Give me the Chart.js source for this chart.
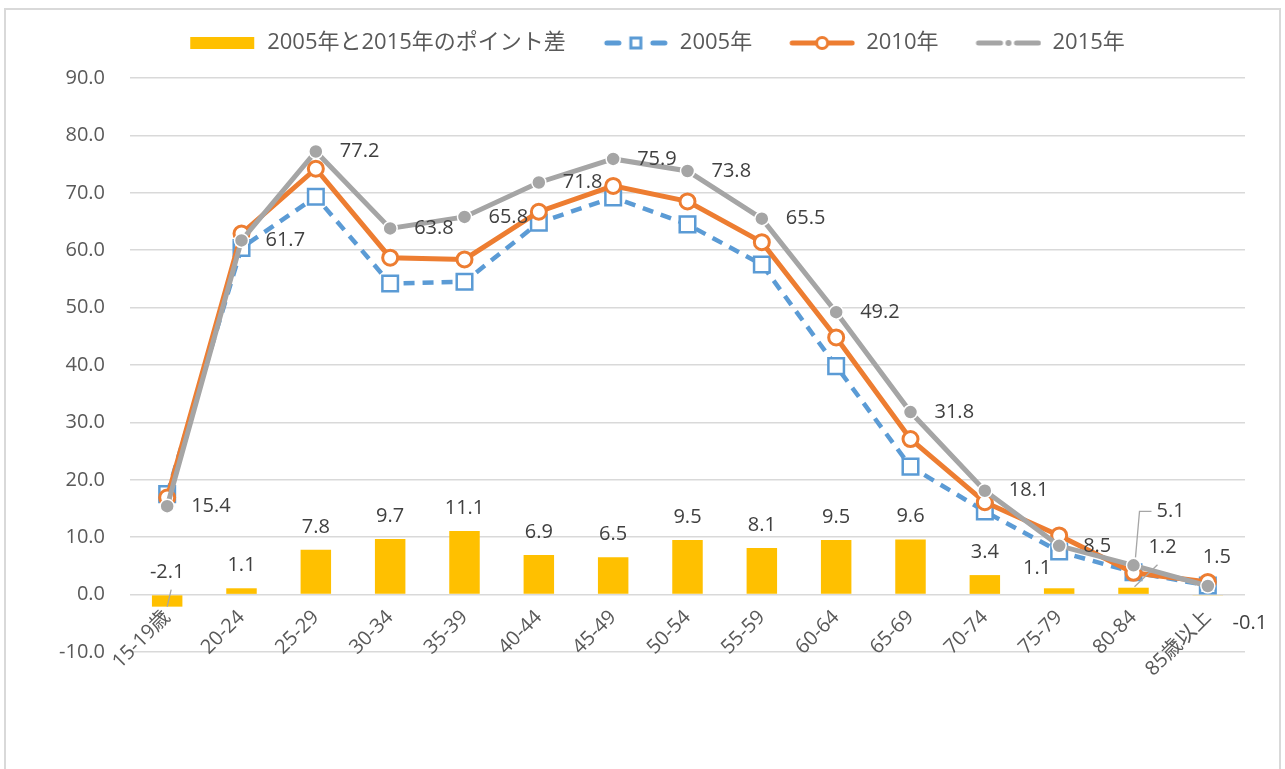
<!DOCTYPE html>
<html>
<head>
<meta charset="utf-8">
<script src="https://cdn.jsdelivr.net/npm/chart.js@4/dist/chart.umd.min.js"></script>
<style>
  body { margin: 0; background: #fff; }
  #wrap { position: relative; width: 1285px; height: 769px; overflow: hidden; }
  #frame { position: absolute; left: 4px; top: 8px; width: 1277px; height: 800px; border: 2px solid #d9d9d9; box-sizing: border-box; }
  #wrap canvas { position: absolute; left: 0; top: 0; }
</style>
</head>
<body>
<div id="wrap">
  <div id="frame"></div>
  <canvas id="chart"></canvas>
</div>
<script>
const categories = ['15-19歳', '20-24', '25-29', '30-34', '35-39', '40-44', '45-49', '50-54', '55-59', '60-64', '65-69', '70-74', '75-79', '80-84', '85歳以上'];
const diffLabel = '2005年と2015年のポイント差';
const diff = [-2.1, 1.1, 7.8, 9.7, 11.1, 6.9, 6.5, 9.5, 8.1, 9.5, 9.6, 3.4, 1.1, 1.2, -0.1];
const y2005 = [17.5, 60.4, 69.3, 54.2, 54.5, 64.8, 69.2, 64.5, 57.5, 39.8, 22.3, 14.5, 7.5, 3.9, 1.6];
const y2010 = [16.9, 62.9, 74.2, 58.7, 58.4, 66.7, 71.2, 68.5, 61.4, 44.8, 27.1, 16.1, 10.3, 3.8, 2.2];
const y2015 = [15.4, 61.7, 77.2, 63.8, 65.8, 71.8, 75.9, 73.8, 65.5, 49.2, 31.8, 18.1, 8.5, 5.1, 1.5];
const yTicks = { min: -10, max: 90, step: 10 };

const FONT = "'Open Sans', 'Noto Sans CJK JP', sans-serif";
const TEXT = '#595959';

// legend swatches drawn like Excel's (line + marker), with blank room on the left as item gap
function swatch(kind) {
  const c = document.createElement('canvas');
  c.width = 91; c.height = 18;
  const g = c.getContext('2d');
  const m = 9;
  g.translate(25, 0);
  if (kind === 'bar') {
    g.fillStyle = '#FFC000';
    g.fillRect(0, 3, 64, 12);
  } else if (kind === '2005') {
    g.strokeStyle = '#5B9BD5'; g.lineWidth = 5; g.lineCap = 'round';
    g.beginPath(); g.moveTo(4, m); g.lineTo(16, m); g.moveTo(50, m); g.lineTo(62, m); g.stroke();
    g.lineWidth = 3; g.fillStyle = '#fff';
    g.fillRect(28, 4, 10, 10); g.strokeRect(28, 4, 10, 10);
  } else if (kind === '2010') {
    g.strokeStyle = '#ED7D31'; g.lineWidth = 5; g.lineCap = 'round';
    g.beginPath(); g.moveTo(3, m); g.lineTo(63, m); g.stroke();
    g.lineWidth = 3; g.fillStyle = '#fff';
    g.beginPath(); g.arc(33, m, 5.5, 0, Math.PI * 2); g.fill(); g.stroke();
  } else {
    g.strokeStyle = '#A5A5A5'; g.lineWidth = 5; g.lineCap = 'round';
    g.beginPath(); g.moveTo(3, m); g.lineTo(25, m); g.moveTo(41, m); g.lineTo(63, m); g.stroke();
    g.fillStyle = '#A5A5A5';
    g.beginPath(); g.arc(33, m, 3, 0, Math.PI * 2); g.fill();
  }
  return c;
}

// extra room under the legend
const legendGap = {
  id: 'legendGap',
  beforeLayout(chart) {
    const lg = chart.legend;
    if (lg && !lg._gapPatched) {
      const fit = lg.fit;
      lg.fit = function () { fit.call(this); this.height += 14; };
      lg._gapPatched = true;
    }
  }
};

// labels Excel moved by hand; leader points are relative to the mark
const labelTweaks = {
  '0:0': { leader: [[0, 0], [4, -17]] },
  '0:12': { dx: -22, dy: 3 },
  '0:13': { dx: 29, dy: -17, leader: [[1, -1], [24, -23]] },
  '0:14': { dx: 42, dy: 51 },
  '3:13': { dx: -1, dy: -54, leader: [[2, -8], [6, -54], [18, -54]] },
  '3:14': { dx: -29, dy: -29 }
};

const valueLabels = {
  id: 'valueLabels',
  afterDatasetsDraw(chart) {
    const ctx = chart.ctx;
    ctx.save();
    ctx.font = '20px ' + FONT;
    ctx.textBaseline = 'middle';
    [0, 3].forEach(di => {
      const meta = chart.getDatasetMeta(di);
      const data = chart.data.datasets[di].data;
      meta.data.forEach((el, i) => {
        const t = labelTweaks[di + ':' + i] || {};
        let x, y;
        if (di === 0) {
          x = el.x; y = Math.min(el.y, el.base) - 23;
          ctx.textAlign = 'center';
        } else {
          x = el.x + 24; y = el.y;
          ctx.textAlign = 'left';
        }
        x += t.dx || 0; y += t.dy || 0;
        if (t.leader) {
          ctx.strokeStyle = '#A6A6A6'; ctx.lineWidth = 1.3;
          ctx.beginPath();
          t.leader.forEach((p, k) => {
            if (k === 0) ctx.moveTo(el.x + p[0], el.y + p[1]);
            else ctx.lineTo(el.x + p[0], el.y + p[1]);
          });
          ctx.stroke();
        }
        ctx.fillStyle = '#404040';
        ctx.fillText(data[i].toFixed(1), x, y);
      });
    });
    ctx.restore();
  }
};

new Chart(document.getElementById('chart'), {
  data: {
    labels: categories,
    datasets: [
      {
        type: 'bar', label: diffLabel, data: diff, order: 4,
        backgroundColor: '#FFC000', barPercentage: 0.41, categoryPercentage: 1
      },
      {
        type: 'line', label: '2005年', data: y2005, order: 3,
        borderColor: '#5B9BD5', borderWidth: 4.5, borderDash: [11, 8], tension: 0,
        pointStyle: 'rect', pointRadius: 11, pointBorderWidth: 2.5,
        pointBackgroundColor: '#fff', pointBorderColor: '#5B9BD5'
      },
      {
        type: 'line', label: '2010年', data: y2010, order: 2,
        borderColor: '#ED7D31', borderWidth: 5, tension: 0,
        pointStyle: 'circle', pointRadius: 7.5, pointBorderWidth: 3,
        pointBackgroundColor: '#fff', pointBorderColor: '#ED7D31'
      },
      {
        type: 'line', label: '2015年', data: y2015, order: 1,
        borderColor: '#A5A5A5', borderWidth: 5, tension: 0,
        pointStyle: 'circle', pointRadius: 7, pointBorderWidth: 1.5,
        pointBackgroundColor: '#A5A5A5', pointBorderColor: '#fff'
      }
    ]
  },
  options: {
    responsive: true,
    maintainAspectRatio: false,
    animation: false,
    layout: { padding: { top: 20, right: 40, bottom: 117, left: 45 } },
    plugins: {
      tooltip: { enabled: false },
      legend: {
        position: 'top',
        labels: {
          font: { size: 22, family: FONT },
          color: TEXT,
          usePointStyle: true,
          pointStyleWidth: 91,
          padding: 12,
          generateLabels(chart) {
            const kinds = ['bar', '2005', '2010', '2015'];
            return chart.data.datasets.map((ds, i) => ({
              text: ds.label,
              pointStyle: swatch(kinds[i]),
              fontColor: TEXT,
              datasetIndex: i,
              hidden: false,
              lineWidth: 0
            }));
          }
        }
      }
    },
    scales: {
      x: {
        position: { y: 0 },
        grid: { display: false },
        border: { display: false },
        ticks: {
          color: TEXT, font: { size: 20, family: FONT },
          minRotation: 45, maxRotation: 45, autoSkip: false, padding: 3
        }
      },
      y: {
        min: yTicks.min, max: yTicks.max,
        grid: { color: '#D9D9D9', lineWidth: 1.5, drawTicks: false },
        border: { display: false },
        ticks: {
          stepSize: yTicks.step, color: TEXT, font: { size: 20, family: FONT }, padding: 25,
          callback: v => v.toFixed(1)
        },
        afterFit(scale) { scale.width = 85; }
      }
    }
  },
  plugins: [legendGap, valueLabels]
});
</script>
</body>
</html>
